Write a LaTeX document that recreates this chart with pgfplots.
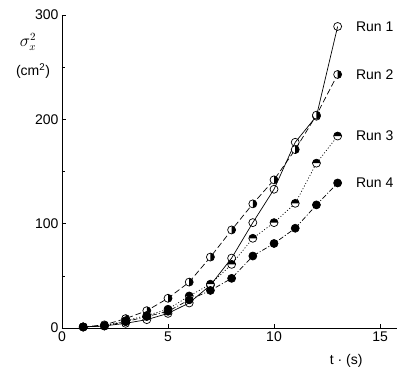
\documentclass[border=0pt]{standalone}
\usepackage{pgfplots}
\pgfplotsset{compat=1.18}
\usepackage{fontspec}
\setmainfont{Liberation Sans}
\pgfdeclareplotmark{halfright}{%
  \pgfpathcircle{\pgfpointorigin}{\pgfplotmarksize}%
  \pgfsetfillcolor{white}\pgfusepathqfillstroke
  \pgfpathmoveto{\pgfqpoint{0pt}{\pgfplotmarksize}}%
  \pgfpatharc{90}{-90}{\pgfplotmarksize}%
  \pgfpathclose
  \pgfsetfillcolor{black}\pgfusepathqfill
}
\pgfdeclareplotmark{halftop}{%
  \pgfpathcircle{\pgfpointorigin}{\pgfplotmarksize}%
  \pgfsetfillcolor{white}\pgfusepathqfillstroke
  \pgfpathmoveto{\pgfqpoint{\pgfplotmarksize}{0pt}}%
  \pgfpatharc{0}{180}{\pgfplotmarksize}%
  \pgfpathclose
  \pgfsetfillcolor{black}\pgfusepathqfill
}
\begin{document}
\begin{tikzpicture}
\begin{axis}[name=ax, scale only axis, width=335pt, height=313pt,
  xmin=0, xmax=15.8, ymin=0, ymax=300,
  axis x line*=bottom, axis y line*=left,
  axis line style={-, line width=0.8pt},
  xtick={0,5,10,15}, ytick={0,100,200,300}, minor y tick num=1,
  tick align=inside, major tick length=4pt, minor tick length=3pt,
  tick style={black, line width=0.6pt},
  tick label style={font=\fontsize{14}{16}\selectfont},
  /pgf/number format/assume math mode=true,
  clip=false]
\addplot[black, line width=0.7pt, mark=o, mark size=4pt, mark options={solid, fill=white}] coordinates {
(1,1) (2,2) (3,4.5) (4,8) (5,14) (6,24) (7,41) (8,67) (9,101) (10,133) (11,178) (12,203) (13,289)};
\addplot[black, line width=0.7pt, dash pattern=on 6pt off 3pt, mark=halfright, mark size=4pt, mark options={solid}] coordinates {
(1,1) (2,3) (3,9) (4,16.6) (5,28.5) (6,44) (7,68) (8,94) (9,119) (10,142) (11,171) (12,204) (13,243)};
\addplot[black, line width=0.7pt, dash pattern=on 1pt off 2pt, mark=halftop, mark size=4pt, mark options={solid}] coordinates {
(1,1) (2,2) (3,7) (4,12) (5,18) (6,30.7) (7,42) (8,61) (9,86) (10,101) (11,119.5) (12,158) (13,184)};
\addplot[black, line width=0.7pt, dash pattern=on 5pt off 2pt on 1pt off 2pt, mark=*, mark size=4pt, mark options={solid, fill=black}] coordinates {
(1,1) (2,2) (3,6) (4,11) (5,16) (6,27) (7,36) (8,47.6) (9,69) (10,81) (11,95.6) (12,118) (13,139)};
\node[anchor=west, font=\fontsize{14}{16}\selectfont] at (axis cs:13.7,289) {Run 1};
\node[anchor=west, font=\fontsize{14}{16}\selectfont] at (axis cs:13.7,243) {Run 2};
\node[anchor=west, font=\fontsize{14}{16}\selectfont] at (axis cs:13.7,184) {Run 3};
\node[anchor=west, font=\fontsize{14}{16}\selectfont] at (axis cs:13.7,139) {Run 4};
\node[font=\fontsize{14}{16}\selectfont] at (axis cs:13.4,0) [yshift=-33pt] {t · (s)};
\end{axis}
\node[font=\fontsize{16}{18}\selectfont, inner sep=0pt] at ([shift={(-34pt,-27pt)}]ax.north west) {$\sigma_x^2$};
\node[font=\fontsize{14}{16}\selectfont] at ([shift={(-29pt,-56pt)}]ax.north west) {(cm\textsuperscript{2})};
\pgfresetboundingbox
\path[use as bounding box] ([shift={(-62pt,-44pt)}]ax.south west) rectangle ([shift={(4pt,15pt)}]ax.north east);
\end{tikzpicture}
\end{document}
